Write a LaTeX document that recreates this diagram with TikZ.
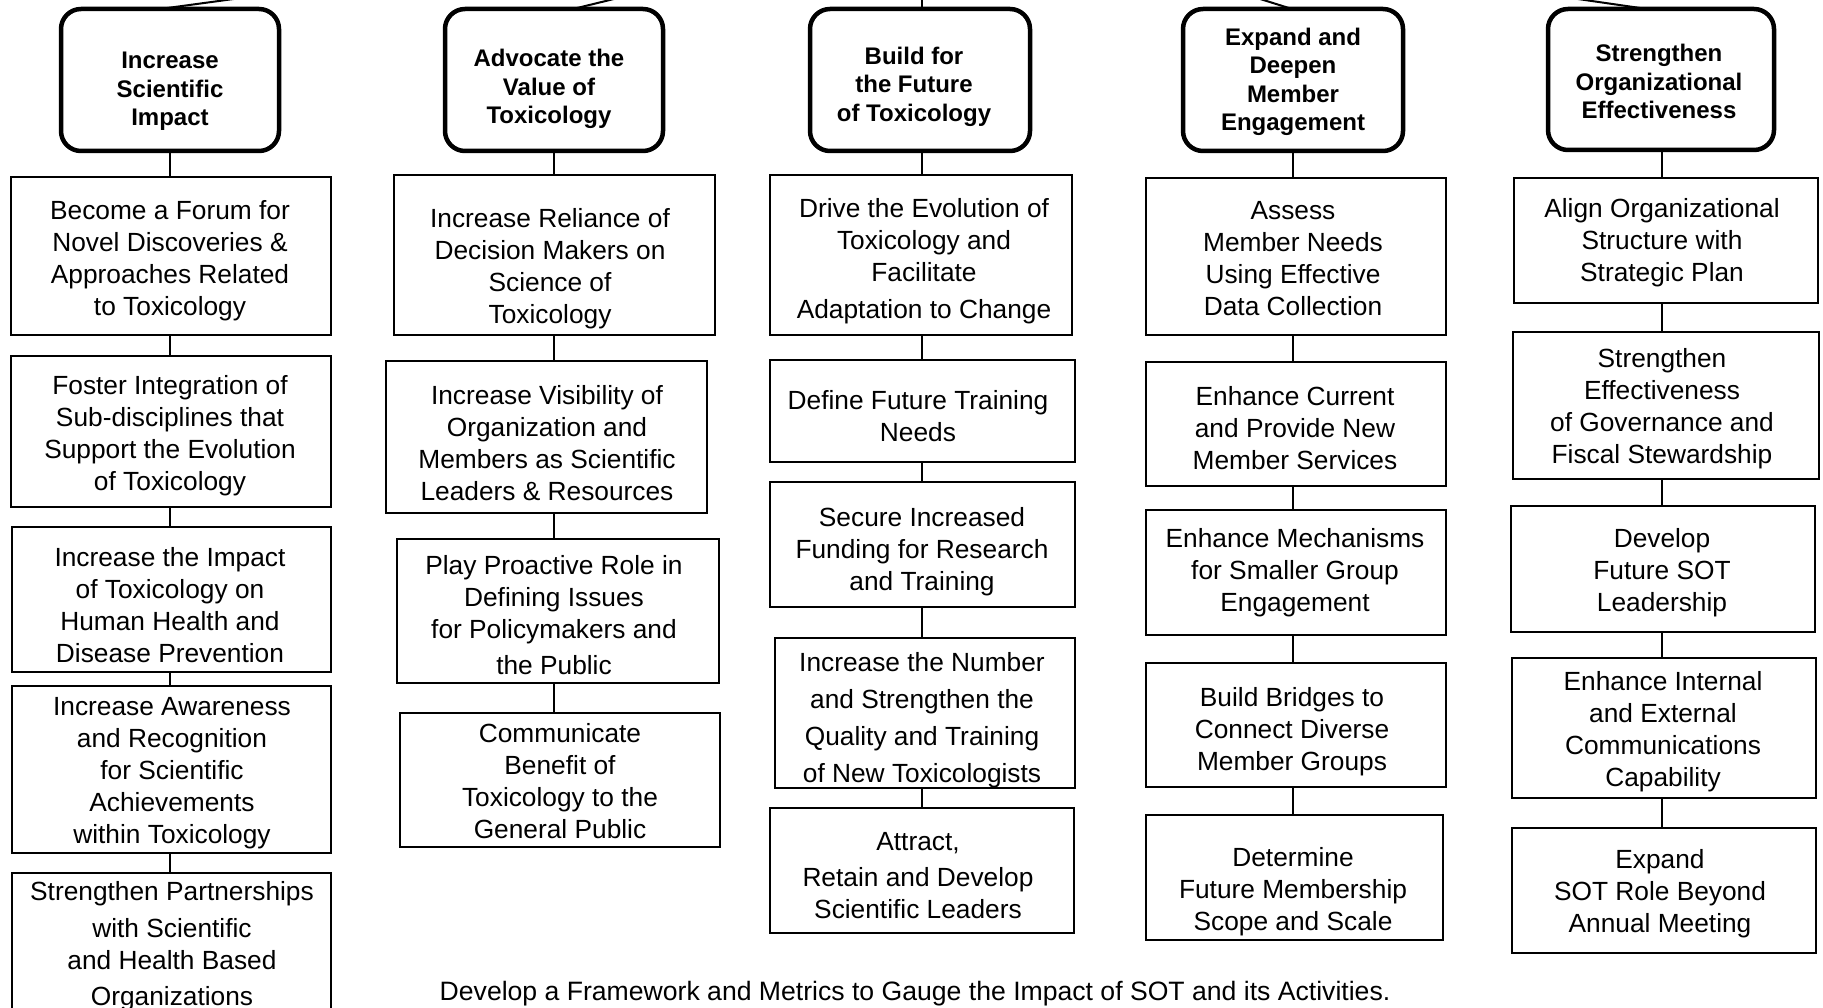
\documentclass[tikz,border=0pt]{standalone}
\usepackage{fontspec}
\setmainfont{Liberation Sans}
\usetikzlibrary{calc}
\newcommand{\bx}[9]{%
  \node[#1, minimum width={#5-#3}, minimum height={#6-#4}] (#2) at ({(#3+#5)/2},{(#4+#6)/2}) {};
  \node[txt] (#2t) at (#7,#8) {#9};}
\newcommand{\hx}[8]{%
  \node[hbox, minimum width={#4-#2}, minimum height={#5-#3}] (#1) at ({(#2+#4)/2},{(#3+#5)/2}) {};
  \node[htxt] (#1t) at (#6,#7) {#8};}
\begin{document}
\begin{tikzpicture}[x=1pt,y=-1pt,
  box/.style={draw, line width=1.6pt, inner sep=0pt, outer sep=0pt},
  thickbox/.style={draw, line width=2.6pt, inner sep=0pt, outer sep=0pt},
  hbox/.style={draw, line width=4.5pt, rounded corners=20pt, inner sep=0pt, outer sep=0pt},
  txt/.style={align=center, inner sep=0pt, yshift=-3.5pt, font=\fontsize{26.3}{32}\selectfont},
  htxt/.style={align=center, inner sep=0pt, yshift=-3pt, font=\bfseries\fontsize{24}{28.5}\selectfont},
  conn/.style={line width=2pt},
]
\clip (0,0) rectangle (1823,1008);
\fill[white] (0,0) rectangle (1823,1008);

% column x positions of connectors
\coordinate (c1) at (170,0);
\coordinate (c2) at (554,0);
\coordinate (c3) at (922,0);
\coordinate (c4) at (1292.5,0);
\coordinate (c5) at (1662,0);

% free ends of the lines to the (unseen) parent
\coordinate (p1) at (241,-2);
\coordinate (p2) at (618,-2);
\coordinate (p3) at (922,-2);
\coordinate (p4) at (1257,-2);
\coordinate (p5) at (1571,-2);

% headers
\hx{h1}{61}{9}{279}{151}{170}{88.5}{Increase\\Scientific\\Impact}
\hx{h2}{445}{9}{663}{151}{549}{86}{Advocate the\\Value of\\Toxicology}
\hx{h3}{810}{9}{1030}{151}{914}{83.5}{Build for\\the Future\\of Toxicology}
\hx{h4}{1183}{9}{1403}{151}{1293}{79}{Expand and\\Deepen\\Member\\Engagement}
\hx{h5}{1548}{9}{1774}{150}{1659}{78.5}{Strengthen\\Organizational\\Effectiveness}

% column 1
\bx{box}{a1}{11}{177}{331}{335}{170}{257.5}{Become a Forum for\\Novel Discoveries \&\\Approaches Related\\to Toxicology}
\bx{box}{a2}{11}{356}{331}{507}{170}{432.5}{Foster Integration of\\Sub-disciplines that\\Support the Evolution\\of Toxicology}
\bx{box}{a3}{12}{527}{331}{672}{170}{602}{Increase the Impact\\of Toxicology on\\Human Health and\\Disease Prevention}
\bx{thickbox}{a4}{12}{686}{331}{853}{172}{770}{Increase Awareness\\and Recognition\\for Scientific\\Achievements\\within Toxicology}
\bx{box}{a5}{12}{873}{331}{1030}{172}{942.5}{Strengthen Partnerships\\[5pt]with Scientific\\and Health Based\\[4pt]Organizations}

% column 2
\bx{box}{b1}{394}{175}{715}{335}{550}{265}{Increase Reliance of\\Decision Makers on\\Science of\\Toxicology}
\bx{box}{b2}{386}{361}{707}{513}{547}{440}{Increase Visibility of\\Organization and\\Members as Scientific\\Leaders \& Resources}
\bx{box}{b3}{397}{539}{719}{683}{554}{612}{Play Proactive Role in\\Defining Issues\\for Policymakers and\\[4pt]the Public}
\bx{box}{b4}{400}{713}{720}{847}{560}{777.5}{Communicate\\Benefit of\\Toxicology to the\\General Public}

% column 3
\bx{box}{cc1}{770}{175}{1072}{335}{924}{257.5}{Drive the Evolution of\\Toxicology and\\Facilitate\\[5pt]Adaptation to Change}
\bx{box}{cc2}{770}{360}{1075}{462}{918}{412.5}{Define Future Training\\Needs}
\bx{box}{cc3}{770}{482}{1075}{607}{922}{548}{Secure Increased\\Funding for Research\\and Training}
\bx{box}{cc4}{775}{638}{1075}{788}{922}{716.5}{Increase the Number\\[5pt]and Strengthen the\\[5pt]Quality and Training\\[5pt]of New Toxicologists}
\bx{box}{cc5}{770}{808}{1074}{933}{918}{872.5}{Attract,\\[4pt]Retain and Develop\\Scientific Leaders}

% column 4
\bx{box}{d1}{1146}{178}{1446}{335}{1293}{255}{Assess\\Member Needs\\Using Effective\\Data Collection}
\bx{box}{d2}{1146}{362}{1446}{486}{1295}{425}{Enhance Current\\and Provide New\\Member Services}
\bx{box}{d3}{1146}{510}{1446}{635}{1295}{569.5}{Enhance Mechanisms\\for Smaller Group\\Engagement}
\bx{box}{d4}{1146}{663}{1446}{787}{1292}{728.5}{Build Bridges to\\Connect Diverse\\Member Groups}
\bx{box}{d5}{1146}{815}{1443}{940}{1293}{888.5}{Determine\\Future Membership\\Scope and Scale}

% column 5
\bx{box}{e1}{1514}{178}{1818}{303}{1662}{239}{Align Organizational\\Structure with\\Strategic Plan}
\bx{box}{e2}{1513}{332}{1819}{479}{1662}{405}{Strengthen\\Effectiveness\\of Governance and\\Fiscal Stewardship}
\bx{box}{e3}{1511}{506}{1815}{632}{1662}{569.5}{Develop\\Future SOT\\Leadership}
\bx{box}{e4}{1512}{658}{1816}{798}{1663}{728.5}{Enhance Internal\\and External\\Communications\\Capability}
\bx{box}{e5}{1512}{828}{1816}{953}{1660}{890}{Expand\\SOT Role Beyond\\Annual Meeting}

% footer
\node[txt, font=\fontsize{26.6}{32}\selectfont] (foot) at (915,990) {Develop a Framework and Metrics to Gauge the Impact of SOT and its Activities.};

% lines to the parent
\draw[conn] ($(h1.north)+(-10,0)$) -- (p1);
\draw[conn] ($(h2.north)+(19,0)$) -- (p2);
\draw[conn] (h3.north -| c3) -- (p3);
\draw[conn] ($(h4.north)+(-1,0)$) -- (p4);
\draw[conn] ($(h5.north)+(-14,0)$) -- (p5);

% vertical connectors
\draw[conn] (h1.south -| c1) -- (a1.north -| c1);
\draw[conn] (a1.south -| c1) -- (a2.north -| c1);
\draw[conn] (a2.south -| c1) -- (a3.north -| c1);
\draw[conn] (a3.south -| c1) -- (a4.north -| c1);
\draw[conn] (a4.south -| c1) -- (a5.north -| c1);

\draw[conn] (h2.south -| c2) -- (b1.north -| c2);
\draw[conn] (b1.south -| c2) -- (b2.north -| c2);
\draw[conn] (b2.south -| c2) -- (b3.north -| c2);
\draw[conn] (b3.south -| c2) -- (b4.north -| c2);

\draw[conn] (h3.south -| c3) -- (cc1.north -| c3);
\draw[conn] (cc1.south -| c3) -- (cc2.north -| c3);
\draw[conn] (cc2.south -| c3) -- (cc3.north -| c3);
\draw[conn] (cc3.south -| c3) -- (cc4.north -| c3);
\draw[conn] (cc4.south -| c3) -- (cc5.north -| c3);

\draw[conn] (h4.south -| c4) -- (d1.north -| c4);
\draw[conn] (d1.south -| c4) -- (d2.north -| c4);
\draw[conn] (d2.south -| c4) -- (d3.north -| c4);
\draw[conn] (d3.south -| c4) -- (d4.north -| c4);
\draw[conn] (d4.south -| c4) -- (d5.north -| c4);

\draw[conn] (h5.south -| c5) -- (e1.north -| c5);
\draw[conn] (e1.south -| c5) -- (e2.north -| c5);
\draw[conn] (e2.south -| c5) -- (e3.north -| c5);
\draw[conn] (e3.south -| c5) -- (e4.north -| c5);
\draw[conn] (e4.south -| c5) -- (e5.north -| c5);
\end{tikzpicture}
\end{document}
